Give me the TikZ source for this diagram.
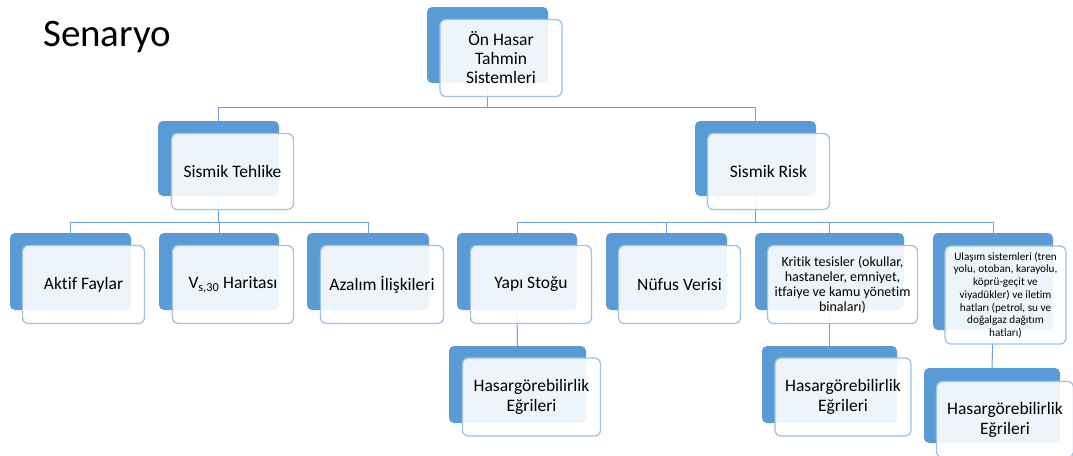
\documentclass[tikz,border=0pt]{standalone}
\usepackage{fontspec}
\setmainfont{Carlito}[Ligatures=NoCommon]
\usetikzlibrary{backgrounds}
\definecolor{backblue}{HTML}{5B9BD5}
\definecolor{frontline}{HTML}{9DC3E6}
\definecolor{connblue}{HTML}{6F9FD8}
\tikzset{
  backbox/.style={draw=none, fill=backblue, rounded corners=5pt, inner sep=0pt},
  frontbox/.style={draw=frontline, line width=1.3pt, fill=white, fill opacity=0.9, text opacity=1,
    rounded corners=6pt, inner sep=0pt, align=center, text=black},
  connector/.style={draw=connblue, line width=1pt},
  maintext/.style={font=\fontsize{17.5}{19}\selectfont},
  hasartext/.style={font=\fontsize{17.5}{20}\selectfont},
  kritiktext/.style={font=\fontsize{14}{15}\selectfont},
  ulasimtext/.style={font=\fontsize{11.2}{12.7}\selectfont},
}
\newcommand\pairbox[9]{%
  \node[backbox, minimum width=#4pt, minimum height=#5pt] (#1B) at (#2,#3) {};
  \node[frontbox, minimum width=#4pt+1pt, minimum height=#5pt+1pt, #8] (#1F) at (#2+#6,#3+#7) {#9};
}
\begin{document}
\begin{tikzpicture}[x=1pt,y=-1pt]
\useasboundingbox (0,0) rectangle (1073,455);
\clip (0,0) rectangle (1073,455);

\node[anchor=base west, inner sep=0pt, font=\fontsize{39}{40}\selectfont, text=black] (title) at (43,46) {Senaryo};

\pairbox{top}{487.5}{45}{121}{76}{13.5}{13}{maintext}{Ön Hasar\\Tahmin\\Sistemleri}
\pairbox{st}{218.5}{158.5}{121}{75}{14}{13}{maintext}{Sismik Tehlike}
\pairbox{sr}{755.5}{158.5}{121}{75}{13}{13}{maintext}{Sismik Risk}
\pairbox{af}{70.5}{271.5}{121}{77}{13}{13}{maintext}{Aktif Faylar}
\pairbox{vs}{219}{271.5}{120}{77}{14}{13}{maintext}{V\textsubscript{s,30} Haritası}
\pairbox{az}{368}{271.5}{122}{77}{14}{13}{maintext}{Azalım İlişkileri}
\pairbox{ys}{517}{271.5}{120}{77}{14}{13}{maintext}{Yapı Stoğu}
\pairbox{nv}{666.5}{271.5}{121}{77}{13}{13}{maintext}{Nüfus Verisi}
\pairbox{kt}{829.5}{271.5}{149}{77}{13}{13}{kritiktext}{Kritik tesisler (okullar,\\hastaneler, emniyet,\\itfaiye ve kamu yönetim\\binaları)}
\pairbox{ul}{993}{281.5}{120}{97}{12.5}{13.5}{ulasimtext}{Ulaşım sistemleri (tren\\yolu, otoban, karayolu,\\köprü-geçit ve\\viyadükler) ve iletim\\hatları (petrol, su ve\\doğalgaz dağıtım\\hatları)}
\pairbox{ha}{517.5}{384.5}{137}{77}{14}{12.5}{hasartext}{Hasargörebilirlik\\Eğrileri}
\pairbox{hb}{829.5}{384.5}{135}{77}{13.5}{12.5}{hasartext}{Hasargörebilirlik\\Eğrileri}
\pairbox{hc}{992}{405.5}{136}{75}{13}{14}{hasartext}{Hasargörebilirlik\\Eğrileri}

\coordinate (busA) at (0,107.5);
\coordinate (busB) at (0,222);
\begin{scope}[on background layer]
  \fill[white] (0,0) rectangle (1073,455);
  \draw[connector] (topB.south) -- (topB.south |- busA) -| (stB.north);
  \draw[connector] (topB.south |- busA) -| (srB.north);
  \draw[connector] (stB.south) -- (stB.south |- busB) -| (afB.north);
  \draw[connector] (stB.south |- busB) -| (vsB.north);
  \draw[connector] (stB.south |- busB) -| (azB.north);
  \draw[connector] (srB.south) -- (srB.south |- busB) -| (ysB.north);
  \draw[connector] (srB.south |- busB) -| (nvB.north);
  \draw[connector] (srB.south |- busB) -| (ktB.north);
  \draw[connector] (srB.south |- busB) -| (ulB.north);
  \draw[connector] (ysB.south) -- (haB.north);
  \draw[connector] (ktB.south) -- (hbB.north);
  \draw[connector] (ulB.south) -- (hcB.north);
\end{scope}
\end{tikzpicture}
\end{document}
